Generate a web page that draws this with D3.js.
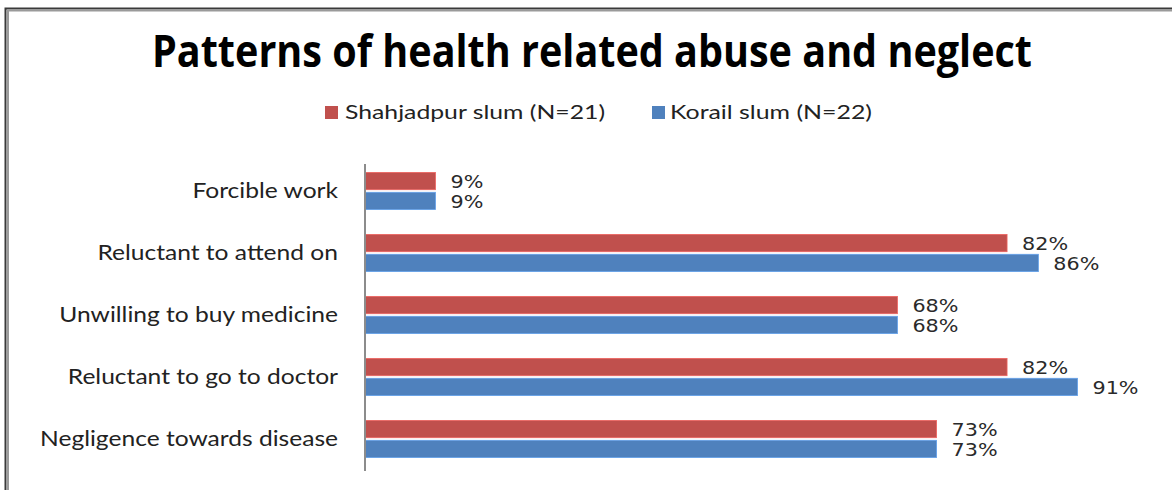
<!DOCTYPE html>
<html><head><meta charset="utf-8">
<script src="https://cdn.jsdelivr.net/npm/d3@7"></script>
<style>body{margin:0;background:#fff}svg{display:block}</style>
</head><body>
<script>
const categories = ["Forcible work","Reluctant to attend on","Unwilling to buy medicine","Reluctant to go to doctor","Negligence towards disease"];
const seriesNames = ["Shahjadpur slum (N=21)","Korail slum (N=22)"];
const shahjadpur = [9,82,68,82,73];
const korail = [9,86,68,91,73];
const colors = ["#C0504D","#4F81BD"];
const title = "Patterns of health related abuse and neglect";

const W=1172,H=490;
const svg=d3.select("body").append("svg").attr("width",W).attr("height",H);
svg.append("rect").attr("width",W).attr("height",H).attr("fill","#fff");

// frame
svg.append("path").attr("d",`M5.5,${H} V8.5 H${W}`).attr("fill","none").attr("stroke","#3a3a3a").attr("stroke-width",2);
svg.append("path").attr("d",`M8,${H} V10.5 H${W}`).attr("fill","none").attr("stroke","#9a9a9a").attr("stroke-width",2);

svg.append("text").attr("x",592).attr("y",67).attr("text-anchor","middle")
  .attr("font-family","Open Sans").attr("font-weight","bold").attr("font-size",44)
  .attr("fill","#000").attr("textLength",880).attr("lengthAdjust","spacingAndGlyphs").text(title);

// legend
const leg=[{x:325,tx:345,tw:260},{x:652,tx:670,tw:202}];
seriesNames.forEach((n,i)=>{
  svg.append("rect").attr("x",leg[i].x).attr("y",106).attr("width",13).attr("height",13).attr("fill",colors[i]);
  svg.append("text").attr("x",leg[i].tx).attr("y",119).attr("font-family","Lato").attr("font-size",20)
    .attr("fill","#222").attr("textLength",leg[i].tw).attr("lengthAdjust","spacingAndGlyphs").text(n);
});

const x=d3.scaleLinear().domain([0,100]).range([365,365+783]);
const y=d3.scaleBand().domain(categories).range([160,470]).paddingInner(0.4).paddingOuter(0.2);
const ys=d3.scaleBand().domain([0,1]).range([0,y.bandwidth()]).paddingInner(0.13);

const data=categories.map((c,i)=>({c,v:[shahjadpur[i],korail[i]]}));
const g=svg.append("g");
data.forEach(d=>{
  d.v.forEach((v,j)=>{
    g.append("rect").attr("x",x(0)).attr("y",y(d.c)+ys(j)).attr("width",x(v)-x(0)).attr("height",ys.bandwidth())
      .attr("fill",colors[j]).attr("stroke",d3.color(colors[j]).brighter(0.6)).attr("stroke-width",0.8);
    const t=g.append("text").attr("x",x(v)+15).attr("y",y(d.c)+ys(j)+ys.bandwidth()/2).attr("dy","0.37em")
      .attr("font-family","DejaVu Sans").attr("font-size",18).attr("fill","#2a2a2a").text(v+"%");
    const w=t.node().getComputedTextLength();
    t.attr("textLength",w*1.15).attr("lengthAdjust","spacingAndGlyphs");
  });
});

// axis
const ax=svg.append("g").attr("transform",`translate(${x(0)},0)`).call(d3.axisLeft(y).tickSize(0).tickPadding(27));
ax.select(".domain").attr("stroke","#8c8c8c").attr("stroke-width",2).attr("d",`M0,${y.range()[0]+4}V${y.range()[1]+1}`);
ax.selectAll(".tick text").attr("font-family","Lato").attr("font-size",21).attr("fill","#222").attr("dy","0.32em")
  .each(function(){const t=d3.select(this);const w=this.getComputedTextLength();t.attr("textLength",w*1.17).attr("lengthAdjust","spacingAndGlyphs");});
</script>
</body></html>
